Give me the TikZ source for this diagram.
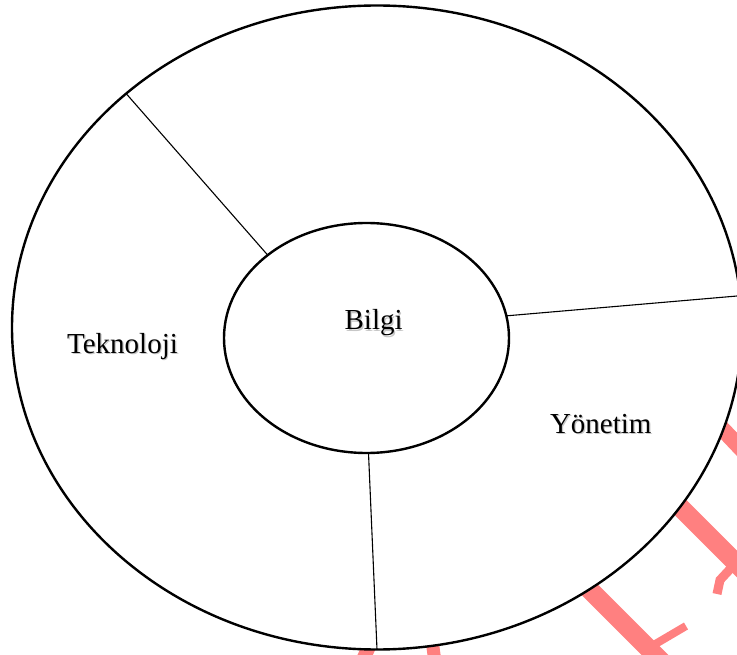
\documentclass[tikz,border=0pt]{standalone}
\usepackage{fontspec}
\setmainfont{Liberation Serif}
\usetikzlibrary{shapes.geometric}
\definecolor{wmred}{RGB}{255,128,128}
\begin{document}
\begin{tikzpicture}[x=1pt,y=-1pt,
  ring/.style={ellipse,draw=black,fill=white,line width=2.4pt,inner sep=0pt,outer sep=0pt},
  spoke/.style={draw=black,line width=1.1pt},
  lbl/.style={font=\fontsize{29}{34}\selectfont,anchor=base,inner sep=0pt,text=black},
  shadow/.style={font=\fontsize{29}{34}\selectfont,anchor=base,inner sep=0pt,text=black!22},
  wm/.style={draw=wmred,line cap=butt}]
\useasboundingbox (0,0) rectangle (737,655);
\clip (0,0) rectangle (737,655);
\fill[white] (0,0) rectangle (737,655);
% watermark fragments
\draw[wm,line width=19pt] (575,575) -- (662,662);
\draw[wm,line width=8pt] (652,646) -- (686,626);
\draw[wm,line width=19pt] (665,492) -- (745,572);
\draw[wm,line width=9pt] (733,566) -- (720,580) -- (717,594);
\draw[wm,line width=16pt] (712,418) -- (748,456);
\draw[wm,line width=14pt] (372,640) -- (362,662);
\draw[wm,line width=13pt] (432,640) -- (435,662);
% rings
\node[ring,minimum width=730pt,minimum height=644pt] (outer) at (377,327.5) {};
\node[ring,minimum width=285pt,minimum height=230pt] (inner) at (366.5,338) {};
% spokes
\draw[spoke] (inner.140.3) -- (outer.137.1);
\draw[spoke] (inner.9.9) -- (outer.5.0);
\draw[spoke] (inner.-89.3) -- (outer.-90.5);
% labels
\node[shadow] (bilgis) at (374.8,331.2) {Bilgi};
\node[lbl] (bilgi) at (373.6,330) {Bilgi};
\node[shadow] (teks) at (123.7,354.7) {Teknoloji};
\node[lbl] (tek) at (122.5,353.5) {Teknoloji};
\node[shadow] (yons) at (602.0,434.5) {Yönetim};
\node[lbl] (yon) at (600.8,433.3) {Yönetim};
\end{tikzpicture}
\end{document}
